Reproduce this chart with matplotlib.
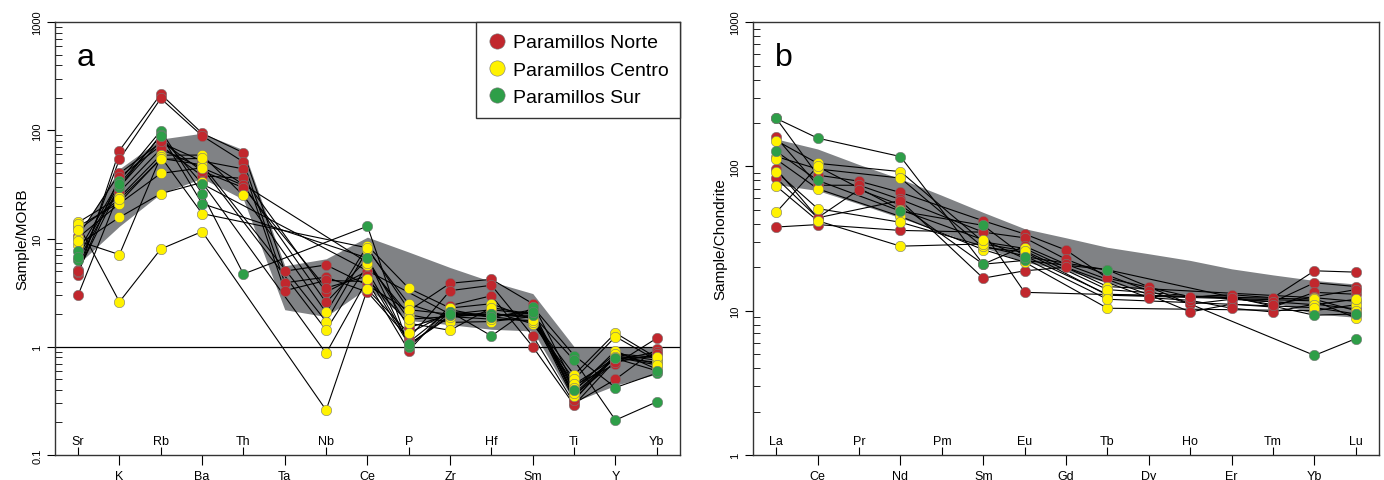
import matplotlib.pyplot as plt
import numpy as np
from matplotlib.ticker import FixedLocator, LogLocator, NullFormatter
from matplotlib.lines import Line2D

plt.rcParams['font.family'] = ['Liberation Sans', 'DejaVu Sans']

nan = np.nan

# ---------- panel a : MORB normalised ----------
elem_a = ['Sr', 'K', 'Rb', 'Ba', 'Th', 'Ta', 'Nb', 'Ce', 'P', 'Zr', 'Hf', 'Sm', 'Ti', 'Y', 'Yb']

norte_a = [
    [4.6, 65, 216, 94, 62, 5.0, 5.7, 3.7, 2.15, 3.86, 4.2, 2.5, 0.44, 0.69, 1.2],
    [5.15, 54, 197, 89, 51, 3.9, 4.4, 3.2, 1.19, 3.3, 3.7, 1.26, 0.30, 0.5, 0.96],
    [10.6, 40, 77, 52, 44, 3.3, 4.1, 4.0, 0.92, 2.4, 2.96, 1.0, 0.29, 0.75, 0.9],
    [4.9, 37, 72, 38, 36, nan, 3.2, 5.0, 1.1, 2.2, 1.87, 2.2, 0.33, 0.8, 0.8],
    [3.0, 27, 67, 45, 31, nan, 2.57, 6.5, 1.5, 2.0, 2.2, 2.0, 0.36, 0.72, 0.85],
    [5.0, 30, 80, 42, 29.5, nan, 3.5, 4.5, 1.05, 1.9, 2.0, 1.9, 0.32, 0.85, 0.75],
]
centro_a = [
    [14.1, 24, 59, 59, 25, nan, 2.08, 8.6, 3.47, 2.28, 2.5, 1.78, 0.55, 1.34, 0.79],
    [12.9, 21.5, 55, 48, nan, nan, 1.71, 7.9, 2.48, 1.87, 2.1, 1.63, 0.5, 1.24, 0.75],
    [10.2, 21, 40, 45, nan, nan, 1.43, 5.7, 1.98, 1.68, 1.71, 1.9, 0.39, 0.92, 0.62],
    [8.8, 15.7, 26, 33, nan, nan, 0.87, 4.2, 1.65, 1.42, 2.3, 2.0, 0.35, 0.83, 0.7],
    [13.5, 2.6, 8.0, 11.6, nan, nan, 0.26, 3.4, 1.33, 2.1, 1.9, 1.7, 0.45, 0.79, 0.72],
    [9.5, 7.1, 57, 17, nan, nan, nan, 8.2, 2.2, 2.0, 2.0, 1.85, 0.42, 0.86, 0.8],
    [12.0, 23, 54, 55, nan, nan, nan, 6.0, 1.8, 1.9, 1.8, 1.75, 0.37, 0.8, 0.68],
]
sur_a = [
    [7.6, 34, 99, 26, 4.7, nan, nan, 13, 1.0, 2.1, 1.26, 2.34, 0.83, 0.42, 0.57],
    [6.3, 30, 91, 21, nan, nan, nan, 6.6, 1.05, 1.95, 2.0, 1.95, 0.75, 0.21, 0.31],
    [6.8, 32, 88, 32, nan, nan, nan, nan, nan, 2.0, 1.9, 2.1, 0.4, 0.78, 0.6],
]
band_a_hi = [10.6, 44, 83, 94, 66, 5.6, 6.5, 10.3, 7.5, 5.4, 4.0, 3.1, 1.0, 1.0, 1.0]
band_a_lo = [5.8, 13, 26, 36, 23, 2.2, 1.9, 3.5, 1.75, 1.6, 1.45, 1.4, 0.31, 0.44, 0.56]

# ---------- panel b : chondrite normalised ----------
elem_b = ['La', 'Ce', 'Pr', 'Nd', 'Pm', 'Sm', 'Eu', 'Gd', 'Tb', 'Dy', 'Ho', 'Er', 'Tm', 'Yb', 'Lu']

norte_b = [
    [215, 87, 79, 66, nan, 42, 34, 26.3, 16.8, 14.5, 12.5, 12.9, 12.3, 18.9, 18.5],
    [159, 74, 74, 59, nan, 35, 32, 22.7, nan, 13.7, 11.1, 12.0, 11.5, 15.6, 14.7],
    [96, 44, 69, 54, nan, 21, 28, 21.0, nan, 12.9, 9.8, 11.1, 10.6, 13.4, 13.0],
    [83, 44, nan, 58, nan, 16.8, 18.9, 20.0, nan, 12.3, 11.8, 10.4, 9.8, 11.1, 10.3],
    [38, 39.5, nan, 36, nan, 35, 13.4, nan, nan, nan, 12.5, 12.3, 11.0, 12.5, 14.0],
]
centro_b = [
    [151, 105, nan, 92, nan, 30, 27, nan, 14.7, nan, nan, nan, nan, 12.3, 11.6],
    [117, 96, nan, 83, nan, 27.5, 25.5, nan, 12.8, nan, nan, nan, nan, 11.7, 8.9],
    [112, 70, nan, 45, nan, 26.5, 21.7, nan, 10.4, nan, nan, nan, nan, 10.0, 11.0],
    [92, 51, nan, 41, nan, 28, 24, nan, 13, nan, nan, nan, nan, 12.0, 10.0],
    [73, 42, nan, 28, nan, 29, 26, nan, 14, nan, nan, nan, nan, 11.0, 12.0],
    [48, 100, nan, 50, nan, 31, 23, nan, 12, nan, nan, nan, nan, 10.5, 9.5],
]
sur_b = [
    [215, 157, nan, 117, nan, 21, 22.3, nan, 19.2, nan, nan, nan, nan, 4.9, 6.4],
    [127, 80, nan, 49, nan, 39, 23.7, nan, 19.2, nan, nan, nan, nan, 9.3, 9.5],
]
band_b_hi = [155, 132, 103, 82, 63, 48, 37, 32, 27.5, 24.8, 22.3, 19.5, 17.7, 16.2, 15.3]
band_b_lo = [75, 68, 55, 44, 35, 27.5, 21.7, 19, 15.6, 13.7, 13.0, 12.4, 11.5, 9.5, 9.0]

c_norte = '#c1272d'
c_centro = '#fff200'
c_sur = '#2e9e48'


def spider(ax, elems, groups, hi, lo):
    x = np.arange(len(elems))
    ax.fill_between(x, lo, hi, color='#808285', lw=0, zorder=1)
    for data, col in groups:
        for s in data:
            s = np.array(s, dtype=float)
            m = np.isfinite(s)
            ax.plot(x[m], s[m], color='black', lw=0.8, zorder=2)
    for data, col in groups:
        for s in data:
            s = np.array(s, dtype=float)
            m = np.isfinite(s)
            ax.plot(x[m], s[m], 'o', ms=7.5, mfc=col, mec='#777777', mew=0.4,
                    ls='none', zorder=3)
    n = len(elems)
    ax.set_xlim(-0.56, n - 1 + 0.56)
    out_i = list(range(1, n, 2))
    in_i = list(range(0, n, 2))
    ax.set_xticks(out_i)
    ax.set_xticklabels([elems[i] for i in out_i], fontsize=9)
    ax.xaxis.set_minor_locator(FixedLocator(in_i))
    ax.tick_params(axis='x', which='major', direction='out', length=7, width=0.8)
    ax.tick_params(axis='x', which='minor', direction='in', length=6, width=0.8)
    for i in in_i:
        ax.text(i, 0.018, elems[i], transform=ax.get_xaxis_transform(),
                ha='center', va='bottom', fontsize=9)
    ax.set_yscale('log')
    ax.yaxis.set_minor_locator(LogLocator(base=10, subs=np.arange(2, 10)))
    ax.yaxis.set_minor_formatter(NullFormatter())
    ax.tick_params(axis='y', which='major', direction='out', length=6, width=0.8,
                   labelsize=8, labelrotation=90, pad=3)
    ax.tick_params(axis='y', which='minor', direction='in', length=5, width=0.6)
    for lab in ax.get_yticklabels():
        lab.set_va('center')
    for sp in ax.spines.values():
        sp.set_color('#333333')
        sp.set_linewidth(1.0)


fig = plt.figure(figsize=(13.84, 4.81), dpi=100)
ax1 = fig.add_axes([0.0397, 0.052, 0.4516, 0.900])
ax2 = fig.add_axes([0.5441, 0.052, 0.4523, 0.900])

spider(ax1, elem_a, [(norte_a, c_norte), (centro_a, c_centro), (sur_a, c_sur)],
       band_a_hi, band_a_lo)
ax1.set_ylim(0.1, 1000)
ax1.set_yticks([0.1, 1, 10, 100, 1000])
ax1.set_yticklabels(['0.1', '1', '10', '100', '1000'])
ax1.axhline(1, color='black', lw=0.9, zorder=1.5)
ax1.set_ylabel('Sample/MORB', fontsize=11, labelpad=2)
ax1.text(0.035, 0.955, 'a', transform=ax1.transAxes, fontsize=23, va='top')

handles = [Line2D([], [], marker='o', ls='none', ms=11, mfc=c, mec='#777777', mew=0.4)
           for c in (c_norte, c_centro, c_sur)]
leg = ax1.legend(handles, ['Paramillos Norte', 'Paramillos Centro', 'Paramillos Sur'],
                 loc='upper right', borderaxespad=0, fontsize=14, fancybox=False,
                 framealpha=1, edgecolor='#333333', handletextpad=0.3,
                 handlelength=1.0, labelspacing=0.5, borderpad=0.6)
leg.get_frame().set_linewidth(1.0)

spider(ax2, elem_b, [(norte_b, c_norte), (centro_b, c_centro), (sur_b, c_sur)],
       band_b_hi, band_b_lo)
ax2.set_ylim(1, 1000)
ax2.set_yticks([1, 10, 100, 1000])
ax2.set_yticklabels(['1', '10', '100', '1000'])
ax2.set_ylabel('Sample/Chondrite', fontsize=11, labelpad=2)
ax2.text(0.035, 0.955, 'b', transform=ax2.transAxes, fontsize=23, va='top')

fig.savefig('out.png', dpi=100)
